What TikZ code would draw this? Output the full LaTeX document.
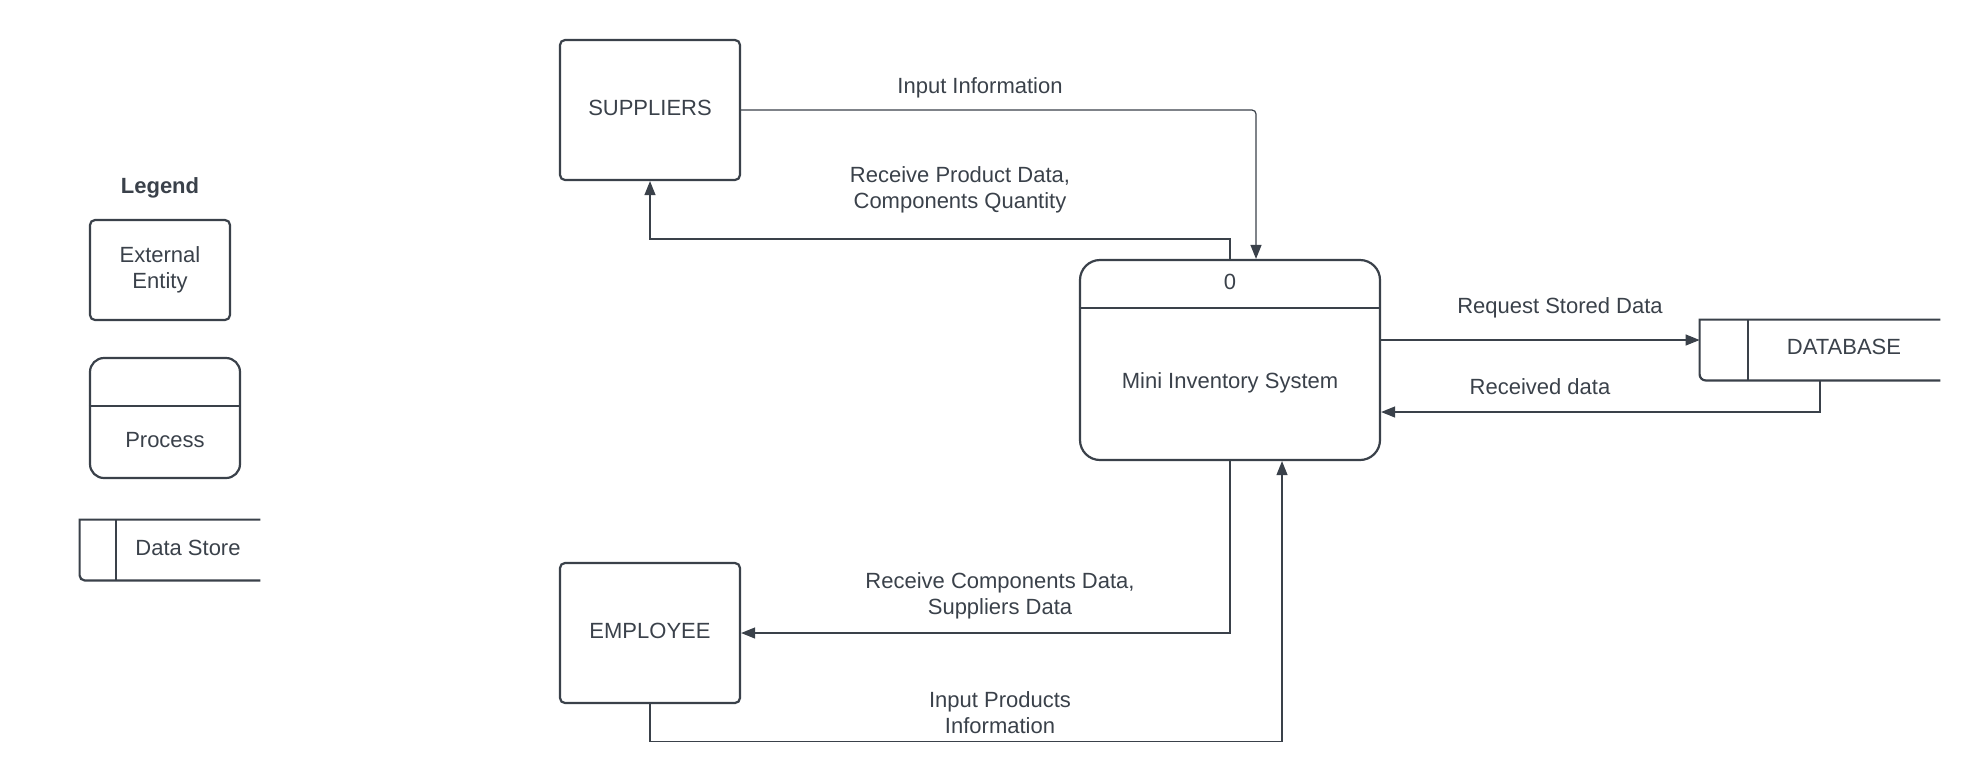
\documentclass[tikz,border=0pt]{standalone}
\usepackage{fontspec}
\setmainfont{Liberation Sans}
\usetikzlibrary{arrows.meta,calc}
\definecolor{ink}{HTML}{3A414A}
\tikzset{
  txt/.style={text=ink,font=\fontsize{11}{13}\selectfont,align=center,inner sep=0pt},
  entity/.style={draw=ink,line width=1.1pt,rounded corners=2.5pt,minimum width=90pt,minimum height=70pt,txt,text depth=2pt},
  procbox/.style={draw=ink,line width=1.1pt,rounded corners=10pt,minimum width=150pt,minimum height=100pt},
  shapeline/.style={draw=ink,line width=1.1pt},
  flow/.style={draw=ink,line width=0.6pt,-{Triangle[length=7pt,width=5.5pt]}},
}
\begin{document}
\begin{tikzpicture}[x=0.5pt,y=-0.5pt]
\useasboundingbox (0,0) rectangle (1980,783);

% ---------- Legend ----------
\node[txt,font=\fontsize{11}{13}\selectfont\bfseries] (legend) at (160,188) {Legend};
\node[draw=ink,line width=1.1pt,rounded corners=2.5pt,minimum width=70pt,minimum height=50pt,txt] (legext) at (160,270) {External\\Entity};
\node[draw=ink,line width=1.1pt,rounded corners=7pt,minimum width=75pt,minimum height=60pt] (legproc) at (165,418) {};
\draw[shapeline] ([yshift=-24.5pt]legproc.north west) -- ([yshift=-24.5pt]legproc.north east);
\node[txt] (legproct) at (165,440) {Process};
\node[minimum width=90pt,minimum height=30pt,inner sep=0pt] (legds) at (170,550) {};
\draw[shapeline] (legds.north east) -- (legds.north west) [rounded corners=2.5pt] -- (legds.south west) [sharp corners] -- (legds.south east);
\draw[shapeline] ([xshift=18pt]legds.north west) -- ([xshift=18pt]legds.south west);
\node[txt] (legdst) at (188,548) {Data Store};

% ---------- Main nodes ----------
\node[entity] (sup) at (650,110) {SUPPLIERS};
\node[entity] (emp) at (650,633) {EMPLOYEE};

\node[procbox] (proc) at (1230,360) {};
\draw[shapeline] ([yshift=-24.5pt]proc.north west) -- ([yshift=-24.5pt]proc.north east);
\node[txt] (procnum) at (1230,282) {0};
\node[txt] (procname) at (1230,383) {Mini Inventory System};

\node[minimum width=120pt,minimum height=30pt,inner sep=0pt] (db) at (1820,350) {};
\draw[shapeline] (db.north east) -- (db.north west) [rounded corners=3pt] -- (db.south west) [sharp corners] -- (db.south east);
\draw[shapeline] ([xshift=24pt]db.north west) -- ([xshift=24pt]db.south west);
\node[txt] (dbname) at (1844,347) {DATABASE};

% ---------- Flows ----------
\draw[flow,rounded corners=2pt] (sup.east) -| ([xshift=13pt]proc.north);
\node[txt] (l1) at (980,88) {Input Information};

\draw[flow] (proc.north) -- ++(0,-20) -| (sup.south);
\node[txt] (l2) at (960,190) {Receive Product Data,\\Components Quantity};

\draw[flow] ([yshift=10pt]proc.east) -- ([yshift=10pt]proc.east -| db.west);
\node[txt] (l3) at (1560,308) {Request Stored Data};

\draw[flow] (db.south) |- ([yshift=-26pt]proc.east);
\node[txt] (l4) at (1540,387) {Received data};

\draw[flow] (proc.south) |- (emp.east);
\node[txt] (l5) at (1000,596) {Receive Components Data,\\Suppliers Data};

\draw[flow] (emp.south) -- ++(0,37) -| ([xshift=26pt]proc.south);
\node[txt] (l6) at (1000,713) {Input Products\\Information};
\end{tikzpicture}
\end{document}
